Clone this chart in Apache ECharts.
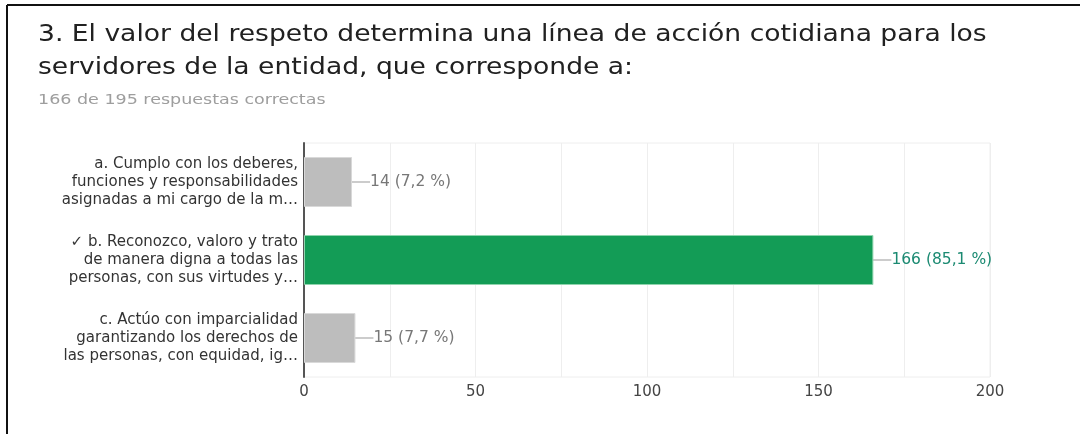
<!DOCTYPE html>
<html>
<head>
<meta charset="utf-8">
<script src="https://cdn.jsdelivr.net/npm/echarts@6/dist/echarts.min.js"></script>
<style>
  html, body { margin: 0; padding: 0; background: #fff; }
  #chart { width: 1080px; height: 434px; }
</style>
</head>
<body>
<div id="chart"></div>
<script>
const titleText = '3. El valor del respeto determina una línea de acción cotidiana para los\nservidores de la entidad, que corresponde a:'
const subtitleText = '166 de 195 respuestas correctas'
const categories = [
  'a. Cumplo con los deberes,\nfunciones y responsabilidades\nasignadas a mi cargo de la m…',
  '✓ b. Reconozco, valoro y trato\nde manera digna a todas las\npersonas, con sus virtudes y…',
  'c. Actúo con imparcialidad\ngarantizando los derechos de\nlas personas, con equidad, ig…'
]
const counts = [14, 166, 15]
const percents = ['7,2', '85,1', '7,7']
const correct = [false, true, false]
const xTicks = [0, 50, 100, 150, 200]

const font = 'DejaVu Sans'
const chart = echarts.init(document.getElementById('chart'))

chart.setOption({
  animation: false,
  graphic: [
    { type: 'line', shape: { x1: 7, y1: 5, x2: 1080, y2: 5 }, style: { stroke: '#111', lineWidth: 2 } },
    { type: 'line', shape: { x1: 7, y1: 5, x2: 7, y2: 434 }, style: { stroke: '#111', lineWidth: 2 } },
    // the source screenshot is stretched sideways, so the heading is widened to match
    {
      type: 'text', x: 38, y: 19, scaleX: 1.155,
      style: { text: titleText, font: '23px "DejaVu Sans"', fill: '#212121', lineHeight: 33 }
    },
    {
      type: 'text', x: 38, y: 93, scaleX: 1.25,
      style: { text: subtitleText, font: '14px "DejaVu Sans"', fill: '#9e9e9e' }
    }
  ],
  grid: {
    left: 304,
    right: 90,
    top: 143,
    bottom: 57,
    show: true,
    borderColor: '#eeeeee',
    borderWidth: 1
  },
  xAxis: {
    type: 'value',
    min: 0,
    max: 200,
    interval: 25,
    axisLine: { show: false },
    axisTick: { show: false },
    splitLine: { lineStyle: { color: '#eeeeee', width: 1 } },
    axisLabel: {
      margin: 8,
      fontFamily: font,
      fontSize: 15,
      color: '#444',
      formatter: v => (xTicks.includes(v) ? String(v) : '')
    }
  },
  yAxis: {
    type: 'category',
    inverse: true,
    data: categories,
    axisLine: { show: true, lineStyle: { color: '#555', width: 2 } },
    axisTick: { show: false },
    splitLine: { show: false },
    axisLabel: {
      margin: 6,
      fontFamily: font,
      fontSize: 15,
      lineHeight: 18,
      color: '#333',
      align: 'right'
    }
  },
  series: [{
    type: 'bar',
    barWidth: 50,
    data: counts.map((v, i) => ({
      value: v,
      itemStyle: correct[i]
        ? { color: '#139c56', borderColor: '#8fd4ad', borderWidth: 1 }
        : { color: '#bdbdbd', borderColor: '#d9d9d9', borderWidth: 1 },
      label: { color: correct[i] ? '#1b8a72' : '#777' }
    })),
    label: {
      show: true,
      position: 'right',
      distance: 0,
      fontFamily: font,
      fontSize: 15.5,
      formatter: p => p.value + ' (' + percents[p.dataIndex] + ' %)'
    },
    labelLayout: { dx: 18 },
    labelLine: { show: true, lineStyle: { color: '#999', width: 1 } }
  }]
})
</script>
</body>
</html>
